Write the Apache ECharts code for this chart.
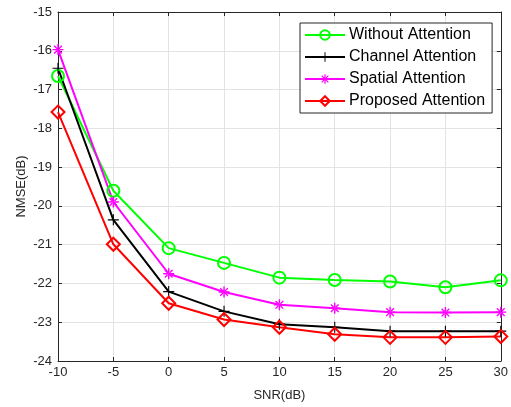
<!DOCTYPE html>
<html>
<head>
<meta charset="utf-8">
<script src="https://cdn.jsdelivr.net/npm/echarts@6/dist/echarts.min.js"></script>
<style>
html,body{margin:0;padding:0;background:#fff;overflow:hidden;}
#chart{width:511px;height:407px;}
</style>
</head>
<body>
<div id="chart"></div>
<script>
// SNR sweep (dB)
const snr = [-10, -5, 0, 5, 10, 15, 20, 25, 30];

// NMSE (dB) per attention variant
const withoutAttention  = [-16.65, -19.61, -21.09, -21.47, -21.85, -21.91, -21.95, -22.10, -21.92];
const channelAttention  = [-16.45, -20.36, -22.21, -22.72, -23.05, -23.13, -23.23, -23.23, -23.23];
const spatialAttention  = [-15.97, -19.90, -21.75, -22.22, -22.55, -22.64, -22.74, -22.75, -22.74];
const proposedAttention = [-17.58, -20.99, -22.51, -22.93, -23.13, -23.31, -23.39, -23.39, -23.37];

const seriesNames = ['Without Attention', 'Channel Attention', 'Spatial Attention', 'Proposed Attention'];

// marker shapes
const plusPath = 'path://M-0.1,-1 L0.1,-1 L0.1,1 L-0.1,1 Z M-1,-0.1 L1,-0.1 L1,0.1 L-1,0.1 Z';
const starPath = 'path://M-0.13,-1 L0.13,-1 L0.13,1 L-0.13,1 Z M-1,-0.13 L1,-0.13 L1,0.13 L-1,0.13 Z ' +
  'M-0.61,-0.79 L0.79,0.61 L0.61,0.79 L-0.79,-0.61 Z M-0.61,0.79 L0.79,-0.61 L0.61,-0.79 L-0.79,0.61 Z';
const diamondPath = 'path://M0,-1 L1,0 L0,1 L-1,0 Z';

function pairs(vals) { return snr.map((x, i) => [x, vals[i]]); }

const FONT = 'Liberation Sans';
const AXIS_COLOR = '#262626';

function mkSeries(name, vals, color, symbol, size, hollow) {
  return {
    name: name,
    type: 'line',
    data: pairs(vals),
    symbol: symbol,
    symbolSize: size,
    showAllSymbol: true,
    lineStyle: { color: color, width: 2 },
    itemStyle: hollow
      ? { color: '#ffffff00', borderColor: color, borderWidth: 2 }
      : { color: color, borderColor: color, borderWidth: 0 },
    emphasis: { disabled: true },
    animation: false,
    z: 3
  };
}

const chart = echarts.init(document.getElementById('chart'), null, { renderer: 'canvas' });

chart.setOption({
  backgroundColor: '#ffffff',
  animation: false,
  textStyle: { fontFamily: FONT },
  grid: { left: 58, right: 7, top: 12, bottom: 43, containLabel: false, show: false },
  xAxis: [{
    type: 'value', min: -10, max: 30, interval: 5,
    name: 'SNR(dB)', nameLocation: 'middle', nameGap: 28, nameMoveOverlap: false,
    nameTextStyle: { fontSize: 13, color: AXIS_COLOR, fontFamily: FONT },
    axisLine: { show: true, onZero: false, lineStyle: { color: AXIS_COLOR, width: 1 } },
    axisTick: { show: true, inside: true, length: 4, lineStyle: { color: AXIS_COLOR } },
    axisLabel: { fontSize: 13, color: AXIS_COLOR, margin: 5, fontFamily: FONT },
    splitLine: { show: true, lineStyle: { color: '#e3e3e3', width: 1 } }
  }, {
    type: 'value', min: -10, max: 30, interval: 5, position: 'top',
    axisLine: { show: true, onZero: false, lineStyle: { color: AXIS_COLOR, width: 1 } },
    axisTick: { show: true, inside: true, length: 4, lineStyle: { color: AXIS_COLOR } },
    axisLabel: { show: false }, splitLine: { show: false }
  }],
  yAxis: [{
    type: 'value', min: -24, max: -15, interval: 1,
    name: 'NMSE(dB)', nameLocation: 'middle', nameGap: 30, nameRotate: 90, nameMoveOverlap: false,
    nameTextStyle: { fontSize: 13, color: AXIS_COLOR, fontFamily: FONT },
    axisLine: { show: true, onZero: false, lineStyle: { color: AXIS_COLOR, width: 1 } },
    axisTick: { show: true, inside: true, length: 4, lineStyle: { color: AXIS_COLOR } },
    axisLabel: { fontSize: 13, color: AXIS_COLOR, margin: 6, fontFamily: FONT },
    splitLine: { show: true, lineStyle: { color: '#e3e3e3', width: 1 } }
  }, {
    type: 'value', min: -24, max: -15, interval: 1, position: 'right',
    axisLine: { show: true, onZero: false, lineStyle: { color: AXIS_COLOR, width: 1 } },
    axisTick: { show: true, inside: true, length: 4, lineStyle: { color: AXIS_COLOR } },
    axisLabel: { show: false }, splitLine: { show: false }
  }],
  legend: {
    data: seriesNames,
    left: 300, top: 23,
    orient: 'vertical',
    itemWidth: 40, itemHeight: 12, itemGap: 6,
    padding: [4, 7, 4, 4],
    backgroundColor: '#ffffff',
    borderColor: AXIS_COLOR, borderWidth: 1,
    textStyle: { fontSize: 16, color: '#000000', fontFamily: FONT, padding: [0, 0, 0, -1] },
    selectedMode: false
  },
  series: [
    mkSeries(seriesNames[0], withoutAttention, '#00ff00', 'circle', 12, true),
    mkSeries(seriesNames[1], channelAttention, '#000000', plusPath, 11, false),
    mkSeries(seriesNames[2], spatialAttention, '#ff00ff', starPath, 11, false),
    mkSeries(seriesNames[3], proposedAttention, '#ff0000', diamondPath, 13, true)
  ]
});
</script>
</body>
</html>
